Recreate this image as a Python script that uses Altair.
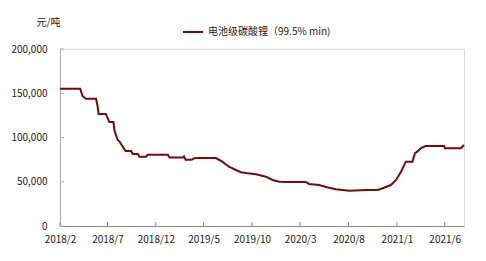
import altair as alt
import pandas as pd

dates = [
    "2018-02-01", "2018-04-06", "2018-04-13", "2018-04-24", "2018-05-26", "2018-05-31",
    "2018-06-03", "2018-06-26", "2018-06-30", "2018-07-07", "2018-07-20", "2018-07-23",
    "2018-08-02", "2018-08-08", "2018-08-16", "2018-08-27", "2018-09-14", "2018-09-19",
    "2018-10-05", "2018-10-10", "2018-10-31", "2018-11-05", "2019-01-08", "2019-01-13",
    "2019-02-25", "2019-02-28", "2019-03-05", "2019-03-24", "2019-04-01", "2019-04-16",
    "2019-06-09", "2019-06-29", "2019-07-20", "2019-08-11", "2019-08-27", "2019-09-17",
    "2019-10-13", "2019-11-14", "2019-12-05", "2019-12-26", "2020-01-17", "2020-03-19",
    "2020-03-29", "2020-04-30", "2020-05-25", "2020-06-22", "2020-08-03", "2020-09-26",
    "2020-11-01", "2020-11-17", "2020-12-13", "2020-12-29", "2021-01-14", "2021-01-29",
    "2021-02-19", "2021-02-27", "2021-03-06", "2021-03-17", "2021-04-01", "2021-05-30",
    "2021-06-02", "2021-07-22", "2021-08-01",
]
prices = [
    155000, 155000, 147000, 143800, 143800, 135000,
    126500, 126500, 123000, 117500, 117500, 108000,
    97500, 95500, 91000, 84700, 84700, 81400,
    81400, 78300, 78300, 80500, 80500, 77500,
    77500, 78800, 74800, 74800, 76500, 76800,
    76800, 72700, 67000, 63300, 60700, 59500,
    58400, 55700, 52000, 50000, 49700, 49700,
    47500, 46300, 43800, 41500, 39900, 40700,
    40700, 42600, 46300, 52000, 61400, 72700,
    72700, 82200, 84000, 87800, 90400, 90400,
    87800, 87800, 91500,
]
series_name = "电池级碳酸锂（99.5% min)"
x_ticks = ["2018-02-01", "2018-07-01", "2018-12-01", "2019-05-01", "2019-10-01",
           "2020-03-01", "2020-08-01", "2021-01-01", "2021-06-01"]
y_ticks = [0, 50000, 100000, 150000, 200000]

FONT = "Noto Sans CJK SC"
W, H = 404, 177

df = pd.DataFrame({"date": dates, "price": prices, "series": series_name})
xt = pd.DataFrame({"date": x_ticks})
yt = pd.DataFrame({"v": y_ticks})

def dt(s):
    y, m, d = map(int, s.split("-"))
    return alt.DateTime(year=y, month=m, date=d, utc=True)

xscale = alt.Scale(type="utc", domain=[dt("2018-02-01"), dt("2021-08-01")])
yscale = alt.Scale(domain=[0, 200000])

line = alt.Chart(df).mark_line(strokeWidth=2).encode(
    x=alt.X("date:T", scale=xscale,
            axis=alt.Axis(title=None, values=[dt(s) for s in x_ticks],
                          labelExpr="utcFormat(datum.value, '%Y') + '/' + (utcmonth(datum.value) + 1)",
                          ticks=False, grid=False, domainColor="#8c8c8c",
                          labelFont=FONT, labelFontSize=10, labelColor="#222",
                          labelPadding=8, labelFlush=False)),
    y=alt.Y("price:Q", scale=yscale,
            axis=alt.Axis(title="元/吨", values=y_ticks, format=",d", ticks=False, grid=False,
                          domainColor="#aaaaaa", labelFont=FONT, labelFontSize=10,
                          labelColor="#222", labelPadding=13,
                          titleAngle=0, titleX=-12, titleY=-27, titleAlign="center",
                          titleBaseline="middle", titleFont=FONT, titleFontSize=10,
                          titleFontWeight="normal", titleColor="#222")),
    color=alt.Color("series:N", scale=alt.Scale(domain=[series_name], range=["#7a0a0a"]),
                    legend=alt.Legend(title=None, orient="none", legendX=122, legendY=-28,
                                      symbolType="stroke", symbolStrokeWidth=2, symbolSize=400,
                                      labelFont=FONT, labelFontSize=10, labelColor="#222",
                                      padding=0, labelOffset=4)),
)

xtick_marks = alt.Chart(xt).mark_rule(color="#8c8c8c").encode(
    x=alt.X("date:T", scale=xscale), y=alt.value(H), y2=alt.value(H - 4))
ytick_marks = alt.Chart(yt).mark_rule(color="#aaaaaa").encode(
    y=alt.Y("v:Q", scale=yscale), x=alt.value(0), x2=alt.value(4))

chart = alt.layer(xtick_marks, ytick_marks, line).properties(
    width=W, height=H,
    autosize=alt.AutoSizeParams(type="none"),
    padding={"left": 60, "top": 49, "right": 22, "bottom": 35},
).configure_view(stroke=None).configure(background="white")

chart.save("out.html", embed_options={"renderer": "svg", "actions": False})
